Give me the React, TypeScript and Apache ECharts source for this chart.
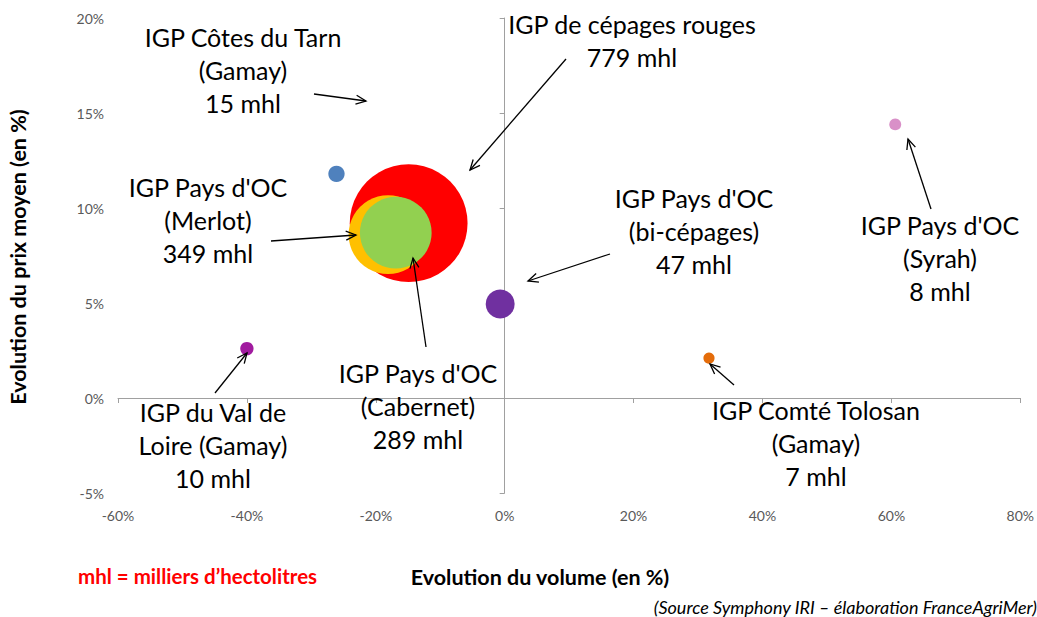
import React, { useEffect, useRef } from "react";
import * as echarts from "echarts";

// ---- data ----
const names = [
  "IGP de cépages rouges",
  "IGP Pays d'OC (Merlot)",
  "IGP Pays d'OC (Cabernet)",
  "IGP Pays d'OC (bi-cépages)",
  "IGP Côtes du Tarn (Gamay)",
  "IGP Pays d'OC (Syrah)",
  "IGP du Val de Loire (Gamay)",
  "IGP Comté Tolosan (Gamay)",
];
const volumeEvolution = [-14.9, -18.1, -16.9, -0.7, -26.1, 60.6, -40.0, 31.7];
const priceEvolution = [9.2, 8.6, 8.7, 4.95, 11.8, 14.4, 2.6, 2.1];
const volumesMhl = [779, 349, 289, 47, 15, 8, 10, 7];
const colors = ["#FF0000", "#FFC000", "#92D050", "#7030A0", "#4F81BD", "#D990C8", "#A11B9F", "#E46C0A"];

const xTicks = { min: -60, max: 80, interval: 20 };
const yTicks = { min: -5, max: 20, interval: 5 };

// ---- annotations (text + arrow, in pixels) ----
const annotations = [
  { lines: ["IGP Côtes du Tarn", "(Gamay)", "15 mhl"], cx: 243, y0: 37, arrow: [314, 94, 366, 101] },
  { lines: ["IGP de cépages rouges", "779 mhl"], cx: 632, y0: 24, arrow: [566, 59, 470, 170] },
  { lines: ["IGP Pays d'OC", "(Merlot)", "349 mhl"], cx: 208, y0: 187, arrow: [271, 241, 356, 235] },
  { lines: ["IGP Pays d'OC", "(Cabernet)", "289 mhl"], cx: 418, y0: 373, arrow: [426, 347, 413, 258] },
  { lines: ["IGP Pays d'OC", "(bi-cépages)", "47 mhl"], cx: 694, y0: 198, arrow: [610, 254, 528, 281] },
  { lines: ["IGP Pays d'OC", "(Syrah)", "8 mhl"], cx: 940, y0: 225, arrow: [931, 209, 908, 139] },
  { lines: ["IGP Comté Tolosan", "(Gamay)", "7 mhl"], cx: 816, y0: 410, arrow: [734, 385, 710, 364] },
  { lines: ["IGP du Val de", "Loire (Gamay)", "10 mhl"], cx: 213, y0: 412, arrow: [215, 393, 247, 353] },
];

const FONT = "Lato, 'Open Sans', sans-serif";

function buildGraphics() {
  const g: any[] = [];
  const lh = 33;
  annotations.forEach((a) => {
    a.lines.forEach((t, i) => {
      g.push({
        type: "text",
        style: {
          x: a.cx,
          y: a.y0 + i * lh,
          text: t,
          font: `25px ${FONT}`,
          fill: "#000",
          align: "center",
          verticalAlign: "middle",
        },
        z: 100,
      });
    });
    const [x1, y1, x2, y2] = a.arrow;
    g.push({ type: "line", shape: { x1, y1, x2, y2 }, style: { stroke: "#000", lineWidth: 1.3 }, z: 100 });
    const ang = Math.atan2(y2 - y1, x2 - x1);
    const L = 11;
    const spread = 0.42;
    g.push({
      type: "polyline",
      shape: {
        points: [
          [x2 - L * Math.cos(ang - spread), y2 - L * Math.sin(ang - spread)],
          [x2, y2],
          [x2 - L * Math.cos(ang + spread), y2 - L * Math.sin(ang + spread)],
        ],
      },
      style: { stroke: "#000", lineWidth: 1.3, fill: "none" },
      z: 100,
    });
  });
  g.push({
    type: "text",
    x: 18,
    y: 257,
    rotation: Math.PI / 2,
    style: { x: 0, y: 0, text: "Evolution du prix moyen (en %)", font: `bold 21.5px ${FONT}`, fill: "#000", align: "center", verticalAlign: "middle" },
    z: 100,
  });
  g.push({
    type: "text",
    style: { x: 540, y: 577, text: "Evolution du volume (en %)", font: `bold 21.5px ${FONT}`, fill: "#000", align: "center", verticalAlign: "middle" },
    z: 100,
  });
  g.push({
    type: "text",
    style: { x: 78, y: 576, text: "mhl = milliers d\u2019hectolitres", font: `bold 20.5px ${FONT}`, fill: "#FF0000", align: "left", verticalAlign: "middle" },
    z: 100,
  });
  g.push({
    type: "text",
    style: { x: 1037, y: 607, text: "(Source Symphony IRI \u2013 élaboration FranceAgriMer)", font: `italic 18px ${FONT}`, fill: "#000", align: "right", verticalAlign: "middle" },
    z: 100,
  });
  return g;
}

export default function App() {
  const ref = useRef<HTMLDivElement>(null);
  useEffect(() => {
    if (!ref.current) return;
    const chart = echarts.init(ref.current, undefined, { renderer: "svg" });
    const data = names.map((n, i) => ({
      name: n,
      value: [volumeEvolution[i], priceEvolution[i], volumesMhl[i]],
      itemStyle: { color: colors[i], opacity: 1 },
    }));
    const axisLineStyle = { color: "#A0A0A0", width: 1 };
    chart.setOption({
      animation: false,
      textStyle: { fontFamily: FONT },
      grid: { left: 118, right: 15, top: 18, bottom: 124, containLabel: false },
      xAxis: [
        {
          type: "value", ...xTicks, position: "bottom",
          axisLine: { show: false, onZero: false }, axisTick: { show: false }, splitLine: { show: false },
          axisLabel: { formatter: "{value}%", color: "#595959", fontSize: 14, margin: 15, fontFamily: FONT },
        },
        {
          type: "value", ...xTicks, position: "bottom",
          axisLine: { show: true, onZero: true, lineStyle: axisLineStyle },
          axisTick: { show: true, length: 5, lineStyle: axisLineStyle }, splitLine: { show: false },
          axisLabel: { show: false },
        },
      ],
      yAxis: [
        {
          type: "value", ...yTicks, position: "left",
          axisLine: { show: false, onZero: false }, axisTick: { show: false }, splitLine: { show: false },
          axisLabel: { formatter: "{value}%", color: "#595959", fontSize: 14, margin: 14, fontFamily: FONT },
        },
        {
          type: "value", ...yTicks, position: "left",
          axisLine: { show: true, onZero: true, lineStyle: axisLineStyle },
          axisTick: { show: true, length: 5, lineStyle: axisLineStyle }, splitLine: { show: false },
          axisLabel: { show: false },
        },
      ],
      series: [
        {
          type: "scatter",
          xAxisIndex: 0,
          yAxisIndex: 0,
          data,
          symbolSize: (v: number[]) => 4.22 * Math.sqrt(v[2]),
          emphasis: { disabled: true },
          z: 5,
        },
      ],
      graphic: buildGraphics(),
    });
    return () => chart.dispose();
  }, []);
  return (
    <div
      ref={ref}
      style={{ position: "absolute", left: 0, top: 0, width: 1037, height: 617, background: "#fff" }}
    />
  );
}
